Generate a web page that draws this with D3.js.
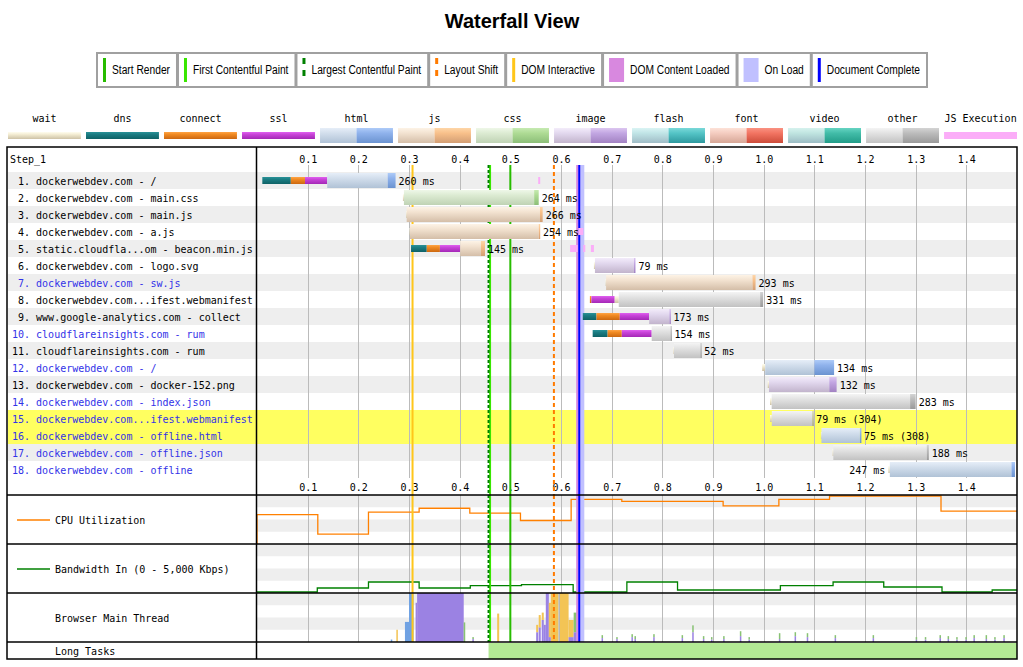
<!DOCTYPE html>
<html>
<head>
<meta charset="utf-8">
<script src="https://cdn.jsdelivr.net/npm/d3@7"></script>
<style>
  body { margin: 0; background: #fff; }
  text { font-family: "DejaVu Sans Mono", monospace; font-size: 10px; white-space: pre; }
</style>
</head>
<body>
<svg id="chart" width="1023" height="667"></svg>
<script>
// ---- data ----
var requestLabels = [
  'dockerwebdev.com - /', 'dockerwebdev.com - main.css', 'dockerwebdev.com - main.js',
  'dockerwebdev.com - a.js', 'static.cloudfla...om - beacon.min.js', 'dockerwebdev.com - logo.svg',
  'dockerwebdev.com - sw.js', 'dockerwebdev.com...ifest.webmanifest', 'www.google-analytics.com - collect',
  'cloudflareinsights.com - rum', 'cloudflareinsights.com - rum', 'dockerwebdev.com - /',
  'dockerwebdev.com - docker-152.png', 'dockerwebdev.com - index.json', 'dockerwebdev.com...ifest.webmanifest',
  'dockerwebdev.com - offline.html', 'dockerwebdev.com - offline.json', 'dockerwebdev.com - offline'
]
var requestTypes = ['html','css','js','js','js','image','js','other','image','other','other','html','image','other','other','html','other','html']
var blueRows = [7, 10, 12, 14, 15, 16, 17, 18]
var highlightRows = [15, 16]
// phase start times in seconds (null = phase absent)
var dnsStart      = [0.0105,null,null,null,0.304,null,null,null,0.643,0.6625,null,null,null,null,null,null,null,null]
var connectStart  = [0.0667,null,null,null,0.335,null,null,0.657,0.670,0.692,null,null,null,null,null,null,null,null]
var sslStart      = [0.0947,null,null,null,0.361,null,null,0.660,0.716,0.720,null,null,null,null,null,null,null,null]
var waitStart     = [null,0.288,0.2945,0.301,null,0.665,0.688,0.706,null,null,0.822,0.997,1.008,1.0125,1.0125,1.113,1.136,1.246]
var ttfbStart     = [0.1386,0.290,0.2954,0.302,0.401,0.667,0.689,0.714,0.774,0.779,0.823,1.003,1.0105,1.0158,1.016,1.114,1.1375,1.249]
var downloadStart = [0.258,0.547,0.5585,0.556,0.442,0.744,0.978,0.993,0.814,0.816,0.875,1.100,1.1295,1.289,1.096,1.190,1.322,1.489]
var requestEnd    = [0.2735,0.556,0.5638,0.5585,0.450,0.747,0.984,0.999,0.816,0.818,0.877,1.139,1.144,1.300,1.098,1.192,1.326,1.496]
var durationText  = ['260 ms','264 ms','266 ms','254 ms','145 ms','79 ms','293 ms','331 ms','173 ms','154 ms','52 ms','134 ms','132 ms','283 ms','79 ms (304)','75 ms (308)','188 ms','247 ms']

var jsExecRow   = [1, 4, 5, 5, 5]
var jsExecStart = [0.555, 0.634, 0.618, 0.644, 0.659]
var jsExecEnd   = [0.558, 0.644, 0.633, 0.647, 0.665]

var tickValues = [0.1,0.2,0.3,0.4,0.5,0.6,0.7,0.8,0.9,1.0,1.1,1.2,1.3,1.4]

var markerNames  = ['Start Render','First Contentful Paint','Largest Contentful Paint','Layout Shift','DOM Interactive','DOM Content Loaded','On Load','Document Complete']
var markerColors = ['#28bc00','#39e600','#008000','#ff7b00','#ffc61a','#d888df','#c0c0ff','#0000ff']
var markerStyles = ['line','line','dash','dash','line','band','band','line']
var markerStart  = [0.500, 0.460, 0.457, 0.586, 0.307, 0.630, 0.634, 0.636]
var markerEnd    = [0.500, 0.460, 0.457, 0.586, 0.307, 0.634, 0.646, 0.636]

var typeLegendNames = ['wait','dns','connect','ssl','html','js','css','image','flash','font','video','other','JS Execution']

var cpuTimes  = [0, 0, 0.12, 0.22, 0.32, 0.42, 0.52, 0.62, 0.72, 0.92, 1.03, 1.13, 1.35, 1.5]
var cpuValues = [0, 60, 20, 65, 73, 63, 48, 91, 87, 78, 91, 98, 67, 67]

var bwTimes  = [0, 0.119, 0.22, 0.32, 0.421, 0.522, 0.624, 0.73, 0.83, 1.033, 1.137, 1.237, 1.352, 1.451, 1.5]
var bwValues = [100, 510, 1120, 510, 745, 850, 100, 1120, 305, 745, 1120, 610, 100, 305, 305]

var mtStart = [0.264,0.275,0.292,0.300,0.313,0.316,0.408,0.425,0.425,0.474,0.551,0.551,0.556,0.556,0.562,0.562,0.566,0.570,0.576,0.576,0.580,0.595,0.598,0.615,0.615,0.625,0.625,0.640]
var mtEnd   = [0.267,0.278,0.300,0.309,0.316,0.408,0.411,0.428,0.428,0.478,0.555,0.555,0.560,0.560,0.566,0.566,0.570,0.576,0.580,0.580,0.595,0.598,0.615,0.625,0.625,0.631,0.631,0.644]
var mtType  = ['parse','layout','parse','parse','script','script','paint','script','paint','layout','script','layout','script','layout','script','layout','script','script','script','layout','layout','other','layout','script','layout','script','paint','layout']
var mtShare = [0.05,0.25,0.41,1,0.8,1,0.4,0.06,0.04,0.58,0.2,0.15,0.3,0.25,0.45,0.15,0.35,1,0.1,0.7,1,1,1,0.1,0.35,0.2,0.4,0.55]

var mtTickTimes  = [0.680,0.709,0.739,0.745,0.782,0.838,0.859,0.880,0.896,0.920,0.953,0.970,1.030,1.061,1.085,1.140,1.215,1.300,1.318,1.347,1.363,1.380,1.398,1.414,1.438,1.455,1.473]
var mtTickScript = [0.08,0.06,0.10,0.06,0.10,0.08,0.20,0.06,0.05,0.06,0.12,0.05,0.06,0.12,0.10,0.08,0.08,0.05,0.05,0.08,0.06,0.05,0.05,0.08,0.06,0.05,0.08]
var mtTickPaint  = [0.06,0.04,0.06,0.06,0.06,0.06,0.14,0.06,0.05,0.06,0.10,0.05,0.12,0.08,0.08,0.06,0.06,0.05,0.05,0.06,0.06,0.05,0.05,0.06,0.08,0.05,0.06]

var longTaskFreeStart = [0.457]
var longTaskFreeEnd   = [1.5]

// ---- colours ----
var grad = {
  wait:    ['#fffdf0', '#f3ecd2', '#cdc2a6'],
  dns:     ['#2a9298', '#1b7c82', '#0e6266'],
  connect: ['#ffa445', '#f08a22', '#cc6810'],
  ssl:     ['#e060f0', '#c844d8', '#a428b6'],
  'html-l':  ['#e6eef8', '#d2deec', '#b0c2d6'], 'html-d':  ['#aecbf8', '#8fb2ec', '#6b93d0'],
  'js-l':    ['#fdf3e6', '#f2e2d0', '#d4bea8'], 'js-d':    ['#fed6a8', '#f8c08a', '#d29e74'],
  'css-l':   ['#eef7e8', '#dcebd2', '#bfd2b4'], 'css-d':   ['#c6eab2', '#aedb94', '#8cbe78'],
  'image-l': ['#f3ecfa', '#e2d8ee', '#c2b4cc'], 'image-d': ['#dcc6f0', '#c2a6e2', '#a282c2'],
  'flash-l': ['#daf4f4', '#c0e4e6', '#a0bcc6'], 'flash-d': ['#7ad8d8', '#54c4c6', '#2e989e'],
  'font-l':  ['#fde2d8', '#f4ccc0', '#d6a696'], 'font-d':  ['#f99282', '#f27462', '#cc4c3a'],
  'video-l': ['#d6f2ee', '#bfe4e0', '#9cbcc4'], 'video-d': ['#66d4c2', '#42bca8', '#229c88'],
  'other-l': ['#f4f4f4', '#e2e2e2', '#c2c2c2'], 'other-d': ['#d4d4d4', '#bcbcbc', '#9a9a9a']
}
var mtColors = { parse: '#70a2e3', script: '#9b82e3', layout: '#f3c455', paint: '#88c273', other: '#b8b8b8' }

// ---- setup ----
var svg = d3.select('#chart')
var x = d3.scaleLinear().domain([0, 1.5]).range([257, 1017])
var rowY = d3.scaleBand().domain(d3.range(1, 19)).range([172, 478])
var rows = d3.range(1, 19)

var defs = svg.append('defs')
Object.keys(grad).forEach(function (k) {
  var g = defs.append('linearGradient').attr('id', 'g-' + k).attr('x1', 0).attr('y1', 0).attr('x2', 0).attr('y2', 1)
  g.append('stop').attr('offset', '0%').attr('stop-color', grad[k][0])
  g.append('stop').attr('offset', '35%').attr('stop-color', grad[k][1])
  g.append('stop').attr('offset', '100%').attr('stop-color', grad[k][2])
})
defs.append('clipPath').attr('id', 'wf-clip').append('rect')
  .attr('x', 257).attr('y', 147).attr('width', 760).attr('height', 520)

// title
svg.append('text').attr('x', 512).attr('y', 28).attr('text-anchor', 'middle')
  .style('font-family', '"Liberation Sans", Arial, sans-serif').style('font-size', '20px').style('font-weight', 'bold')
  .text('Waterfall View')

// ---- marker legend ----
// text squeezed so the whole legend spans the same width as the reference (97..928)
var leg = svg.append('g')
var legItems = []
var fixedW = 0, textW = 0
markerNames.forEach(function (name, i) {
  var sw = markerStyles[i] === 'band' ? 15 : 3
  var t = leg.append('text').attr('y', 74)
    .style('font-family', '"Liberation Sans", Arial, sans-serif').style('font-size', '12px').text(name)
  var tw = t.node().getComputedTextLength()
  legItems.push({ sw: sw, t: t, tw: tw, i: i })
  fixedW += 6 + sw + 6 + 7 + 1
  textW += tw
})
var squeeze = (831 - fixedW) / textW
var lx = 97
legItems.forEach(function (it) {
  var tw = it.tw * squeeze
  var w = 6 + it.sw + 6 + tw + 7
  leg.insert('rect', 'text').attr('x', lx).attr('y', 53).attr('width', w).attr('height', 34)
    .attr('fill', '#fff').attr('stroke', '#a0a0a0').attr('stroke-width', 2)
  var sx = lx + 6
  if (markerStyles[it.i] === 'dash') {
    leg.append('line').attr('x1', sx + 1.5).attr('x2', sx + 1.5).attr('y1', 58).attr('y2', 82)
      .attr('stroke', markerColors[it.i]).attr('stroke-width', 3).attr('stroke-dasharray', '6,6')
  } else {
    leg.append('rect').attr('x', sx).attr('y', 58).attr('width', it.sw).attr('height', 24).attr('fill', markerColors[it.i])
  }
  it.t.attr('x', sx + it.sw + 6).attr('textLength', tw).attr('lengthAdjust', 'spacingAndGlyphs')
  lx += w + 1
})

// ---- type legend ----
var typeX = d3.scaleBand().domain(typeLegendNames).range([8, 1017]).paddingInner(0.065).paddingOuter(0)
var tl = svg.append('g')
typeLegendNames.forEach(function (name) {
  var bx = typeX(name), bw = typeX.bandwidth()
  tl.append('text').attr('x', bx + bw / 2).attr('y', 122).attr('text-anchor', 'middle').text(name)
  if (name === 'JS Execution') {
    tl.append('rect').attr('x', bx).attr('y', 132).attr('width', bw).attr('height', 7).attr('fill', '#fbadf8')
  } else if (grad[name]) {
    tl.append('rect').attr('x', bx).attr('y', 132).attr('width', bw).attr('height', 7).attr('fill', 'url(#g-' + name + ')')
  } else {
    tl.append('rect').attr('x', bx).attr('y', 128).attr('width', bw / 2).attr('height', 15).attr('fill', 'url(#g-' + name + '-l)')
    tl.append('rect').attr('x', bx + bw / 2).attr('y', 128).attr('width', bw / 2).attr('height', 15).attr('fill', 'url(#g-' + name + '-d)')
  }
})

// ---- waterfall rows ----
var wf = svg.append('g')
wf.selectAll('rect.row').data(rows).enter().append('rect')
  .attr('x', 8).attr('width', 1009).attr('y', function (d) { return rowY(d) }).attr('height', rowY.bandwidth())
  .attr('fill', function (d) {
    if (highlightRows.indexOf(d) >= 0) return '#ffff60'
    return d % 2 === 1 ? '#eeeeee' : '#ffffff'
  })

// chart bands (CPU, bandwidth, main thread)
var chartTops = [495, 544, 593]
chartTops.forEach(function (top) {
  var band = d3.scaleBand().domain([0, 1, 2, 3]).range([top, top + 49])
  svg.selectAll(null).data([0, 2]).enter().append('rect')
    .attr('x', 257).attr('width', 760).attr('y', function (d) { return band(d) }).attr('height', band.bandwidth())
    .attr('fill', '#eeeeee')
})
// long task free band
svg.selectAll(null).data(longTaskFreeStart).enter().append('rect')
  .attr('x', function (d) { return x(d) }).attr('y', 643).attr('height', 16)
  .attr('width', function (d, i) { return x(longTaskFreeEnd[i]) - x(d) })
  .attr('fill', '#b3e994')

// grid lines
var grid = svg.append('g').attr('stroke', '#bbbbbb').attr('stroke-width', 1)
tickValues.forEach(function (t) {
  var gx = Math.round(x(t)) + 0.5
  grid.append('line').attr('x1', gx).attr('x2', gx).attr('y1', 165).attr('y2', 478)
  grid.append('line').attr('x1', gx).attr('x2', gx).attr('y1', 495).attr('y2', 642)
})

// axes (top and middle)
function timeAxis(y) {
  var g = svg.append('g').attr('transform', 'translate(0,' + y + ')')
    .call(d3.axisTop(x).tickValues(tickValues).tickSize(0).tickPadding(0).tickFormat(d3.format('.1f')))
  g.select('.domain').remove()
  g.selectAll('text').style('font-family', '"DejaVu Sans Mono", monospace').style('font-size', '10px').attr('fill', '#000')
}
timeAxis(163)
timeAxis(491)

// markers drawn behind waterfall bars
function drawMarkers(g, y1, y2) {
  markerNames.forEach(function (n, i) {
    if (markerStyles[i] === 'band') {
      g.append('rect').attr('x', x(markerStart[i])).attr('width', Math.max(2, x(markerEnd[i]) - x(markerStart[i])))
        .attr('y', y1).attr('height', y2 - y1).attr('fill', markerColors[i])
    }
  })
  markerNames.forEach(function (n, i) {
    if (markerStyles[i] === 'band') return
    var l = g.append('line').attr('x1', x(markerStart[i])).attr('x2', x(markerStart[i])).attr('y1', y1).attr('y2', y2)
      .attr('stroke', markerColors[i]).attr('stroke-width', 2)
    if (markerStyles[i] === 'dash') l.attr('stroke-dasharray', i === 2 ? '3,2' : '4,3')
  })
}
drawMarkers(svg.append('g'), 165, 495)

// request bars
var bars = svg.append('g').attr('clip-path', 'url(#wf-clip)')
function phaseEnd(i, list) {
  for (var k = 0; k < list.length; k++) if (list[k][i] != null) return list[k][i]
  return null
}
rows.forEach(function (r) {
  var i = r - 1
  var top = rowY(r)
  var type = requestTypes[i]
  var phases = [
    ['dns', dnsStart[i], phaseEnd(i, [connectStart, sslStart, waitStart, ttfbStart])],
    ['connect', connectStart[i], phaseEnd(i, [sslStart, waitStart, ttfbStart])],
    ['ssl', sslStart[i], phaseEnd(i, [waitStart, ttfbStart])],
    ['wait', waitStart[i], ttfbStart[i]]
  ]
  phases.forEach(function (p) {
    if (p[1] == null) return
    bars.append('rect').attr('x', x(p[1])).attr('width', Math.max(1, x(p[2]) - x(p[1])))
      .attr('y', top + 5).attr('height', 7).attr('fill', 'url(#g-' + p[0] + ')')
  })
  bars.append('rect').attr('x', x(ttfbStart[i])).attr('width', x(downloadStart[i]) - x(ttfbStart[i]))
    .attr('y', top + 1).attr('height', 15).attr('fill', 'url(#g-' + type + '-l)')
  bars.append('rect').attr('x', x(downloadStart[i])).attr('width', Math.max(1.5, x(requestEnd[i]) - x(downloadStart[i])))
    .attr('y', top + 1).attr('height', 15).attr('fill', 'url(#g-' + type + '-d)')

  var lab = svg.append('text').attr('y', top + 12.5).text(durationText[i])
  var lw = lab.node().getComputedTextLength()
  var endX = x(requestEnd[i]) + 3
  if (endX + lw > 1015) {
    var st = x(phaseEnd(i, [dnsStart, connectStart, sslStart, waitStart, ttfbStart]))
    lab.attr('x', st - 3).attr('text-anchor', 'end')
  } else {
    lab.attr('x', endX)
  }
})

// JS execution
svg.selectAll(null).data(jsExecRow).enter().append('rect')
  .attr('x', function (d, i) { return x(jsExecStart[i]) })
  .attr('width', function (d, i) { return Math.max(2, x(jsExecEnd[i]) - x(jsExecStart[i])) })
  .attr('y', function (d) { return rowY(d) + 5 }).attr('height', 7)
  .attr('fill', '#fbadf8')

// row labels
svg.append('text').attr('x', 10).attr('y', 163).text('Step_1')
svg.selectAll(null).data(rows).enter().append('text')
  .attr('x', 12).attr('y', function (d) { return rowY(d) + 12.5 })
  .attr('fill', function (d) { return blueRows.indexOf(d) >= 0 ? '#3232e8' : '#000' })
  .text(function (d) { return (d < 10 ? ' ' : '') + d + '. ' + requestLabels[d - 1] })

// ---- CPU ----
var cpuY = d3.scaleLinear().domain([0, 100]).range([544, 495])
svg.append('path').datum(cpuTimes)
  .attr('d', d3.line().curve(d3.curveStepAfter).x(function (d) { return x(d) }).y(function (d, i) { return cpuY(cpuValues[i]) }))
  .attr('fill', 'none').attr('stroke', '#ff8000').attr('stroke-width', 1.3)

// ---- bandwidth ----
var bwY = d3.scaleLinear().domain([0, 5000]).range([593, 544])
svg.append('path').datum(bwTimes)
  .attr('d', d3.line().curve(d3.curveStepAfter).x(function (d) { return x(d) }).y(function (d, i) { return bwY(bwValues[i]) }))
  .attr('fill', 'none').attr('stroke', '#008000').attr('stroke-width', 1.3)

// ---- main thread ----
var mtY = d3.scaleLinear().domain([0, 1]).range([642, 593])
var stackBase = {}
mtStart.forEach(function (s, i) {
  var base = stackBase[s] || 0
  svg.append('rect').attr('x', x(s)).attr('width', Math.max(1.5, x(mtEnd[i]) - x(s)))
    .attr('y', mtY(base + mtShare[i])).attr('height', mtY(base) - mtY(base + mtShare[i]))
    .attr('fill', mtColors[mtType[i]])
  stackBase[s] = base + mtShare[i]
})
mtTickTimes.forEach(function (t, i) {
  svg.append('rect').attr('x', x(t)).attr('width', 1.5)
    .attr('y', mtY(mtTickScript[i])).attr('height', mtY(0) - mtY(mtTickScript[i])).attr('fill', mtColors.script)
  svg.append('rect').attr('x', x(t)).attr('width', 1.5)
    .attr('y', mtY(mtTickScript[i] + mtTickPaint[i])).attr('height', mtY(0) - mtY(mtTickPaint[i])).attr('fill', mtColors.paint)
})

// markers over the lower charts
drawMarkers(svg.append('g'), 495, 642)

// chart labels
svg.append('line').attr('x1', 17).attr('x2', 50).attr('y1', 520).attr('y2', 520).attr('stroke', '#ff8000').attr('stroke-width', 1.3)
svg.append('text').attr('x', 55).attr('y', 523.5).text('CPU Utilization')
svg.append('line').attr('x1', 17).attr('x2', 50).attr('y1', 569).attr('y2', 569).attr('stroke', '#008000').attr('stroke-width', 1.3)
svg.append('text').attr('x', 55).attr('y', 572.5).text('Bandwidth In (0 - 5,000 Kbps)')
svg.append('text').attr('x', 55).attr('y', 621.5).text('Browser Main Thread')
svg.append('text').attr('x', 55).attr('y', 654.5).text('Long Tasks')

// borders
var bd = svg.append('g').attr('stroke', '#000').attr('stroke-width', 1.5).attr('fill', 'none')
bd.append('rect').attr('x', 7).attr('y', 147).attr('width', 1010).attr('height', 512)
bd.append('line').attr('x1', 256.5).attr('x2', 256.5).attr('y1', 147).attr('y2', 659)
;[495, 544, 593, 642].forEach(function (y) {
  bd.append('line').attr('x1', 7).attr('x2', 1017).attr('y1', y).attr('y2', y)
})
</script>
</body>
</html>
